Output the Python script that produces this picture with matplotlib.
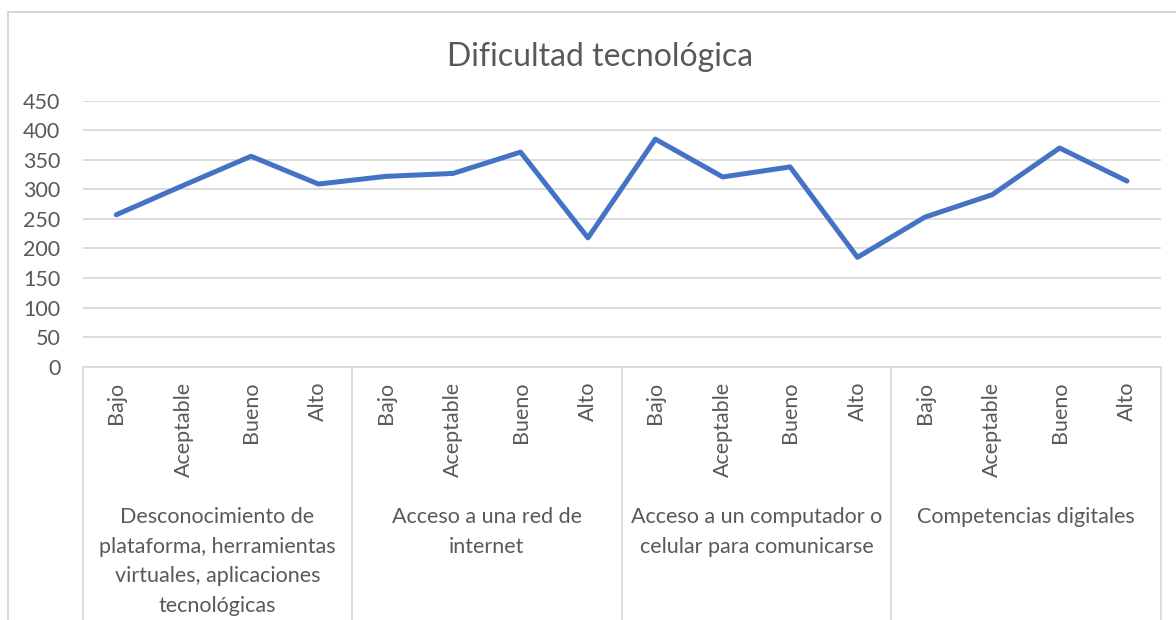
import matplotlib
matplotlib.use("Agg")
import matplotlib.pyplot as plt
from matplotlib.transforms import blended_transform_factory
from matplotlib.patches import Rectangle

plt.rcParams['font.family'] = ['Lato', 'DejaVu Sans']

title = "Dificultad tecnológica"
levels = ["Bajo", "Aceptable", "Bueno", "Alto"]
groups = [
    "Desconocimiento de\nplataforma, herramientas\nvirtuales, aplicaciones\ntecnológicas",
    "Acceso a una red de\ninternet",
    "Acceso a un computador o\ncelular para comunicarse",
    "Competencias digitales",
]
values = [257, 307, 356, 309,
          322, 327, 363, 218,
          385, 321, 338, 185,
          253, 291, 370, 314]
yticks = [0, 50, 100, 150, 200, 250, 300, 350, 400, 450]

W, H = 1176, 620
fig = plt.figure(figsize=(W / 100, H / 100), dpi=100)
fig.patch.set_facecolor("white")

# chart border (left & top visible)
fig.add_artist(Rectangle((8 / W, -0.1), 1.2, (620 - 12) / H + 0.1,
                         transform=fig.transFigure, fill=False,
                         edgecolor="#D0D0D0", linewidth=1.2))

left, right = 82.6 / W, 1160.7 / W
bottom, top = (H - 366.7) / H, (H - 100.7) / H
ax = fig.add_axes([left, bottom, right - left, top - bottom])

n = len(values)
x = list(range(n))
ax.plot(x, values, color="#4472C4", linewidth=3.6,
        solid_capstyle="round", solid_joinstyle="round", zorder=3)

ax.set_xlim(-0.5, n - 0.5)
ax.set_ylim(0, 450)
ax.set_yticks(yticks)
ax.set_yticklabels([str(v) for v in yticks], fontsize=15.5, color="#595959")
ax.tick_params(axis="y", length=0, pad=16)
ax.yaxis.grid(True, color="#D9D9D9", linewidth=1.3)
ax.set_axisbelow(True)

ax.set_xticks(x)
ax.set_xticklabels(levels * len(groups), rotation=90, fontsize=15.5,
                   color="#595959", va="top", ha="center")
ax.tick_params(axis="x", length=0, pad=11)

for s in ["top", "right", "left"]:
    ax.spines[s].set_visible(False)
ax.spines["bottom"].set_color("#D9D9D9")
ax.spines["bottom"].set_linewidth(1.3)

# group separators
tr = blended_transform_factory(ax.transData, fig.transFigure)
for b in range(len(groups) + 1):
    xb = b * len(levels) - 0.5
    ax.plot([xb, xb], [bottom, -0.01], transform=tr, color="#D9D9D9",
            linewidth=1.3, clip_on=False)

# group labels
for i, g in enumerate(groups):
    xc = i * len(levels) + (len(levels) - 1) / 2
    ax.text(xc, (H - 507) / H, g, transform=tr, ha="center", va="top",
            fontsize=15.5, color="#595959", linespacing=1.6,
            multialignment="center")

fig.text(600 / W, 1 - 57 / H, title, ha="center", va="center",
         fontsize=23, color="#595959")

fig.savefig("out.png", dpi=100)
